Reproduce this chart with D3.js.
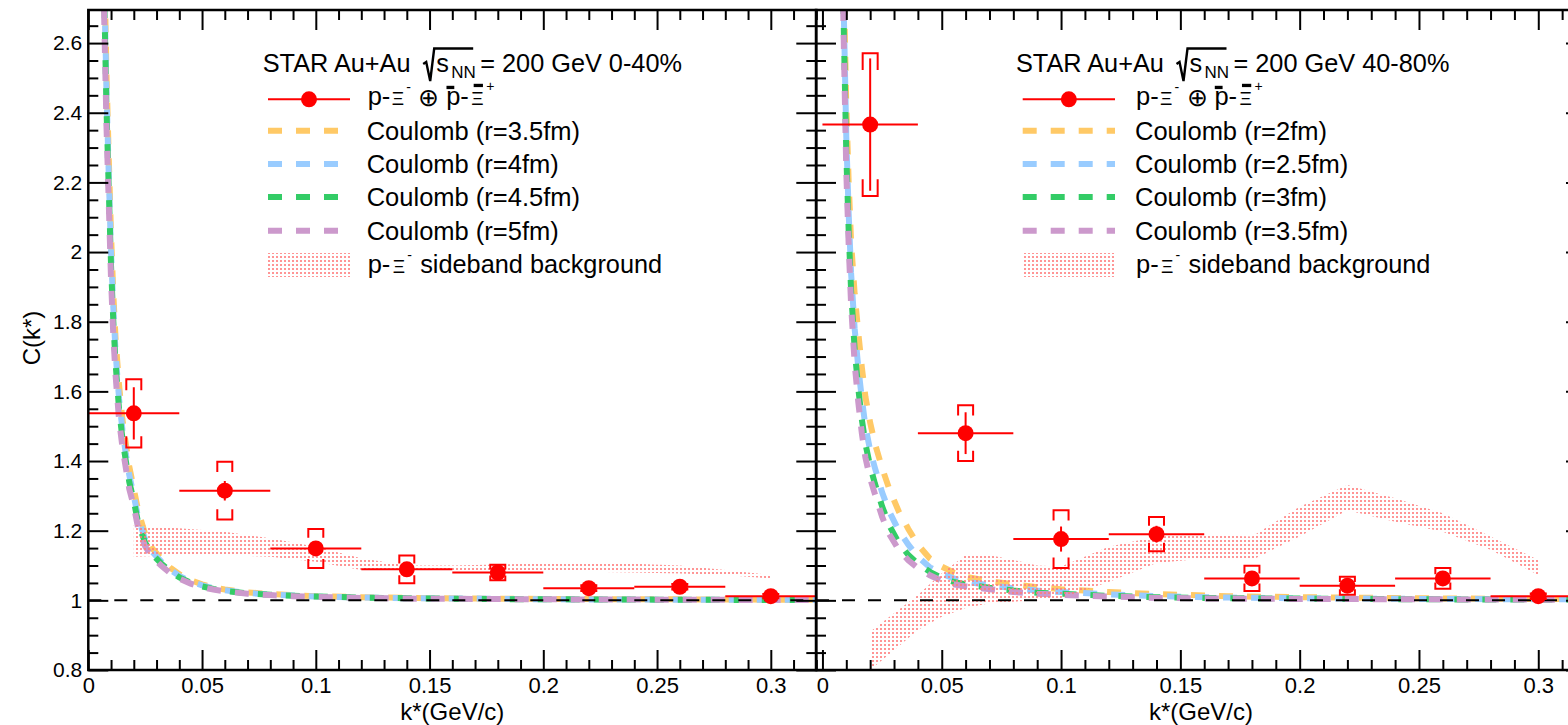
<!DOCTYPE html>
<html><head><meta charset="utf-8">
<script src="https://cdn.jsdelivr.net/npm/d3@7"></script>
<style>
body{margin:0;background:#fff;}
svg{display:block;}
text{font-family:"Liberation Sans", Arial, Helvetica, sans-serif;fill:#000;}
</style>
</head><body>
<svg id="c" width="1568" height="725"></svg>
<script>
// ---------------- DATA ----------------
const kBins = [0.02, 0.06, 0.10, 0.14, 0.18, 0.22, 0.26, 0.30];
const kHalfWidth = [0.02, 0.02, 0.02, 0.02, 0.02, 0.02, 0.02, 0.02];

const corr_0_40 = [1.537, 1.315, 1.149, 1.089, 1.080, 1.035, 1.039, 1.012];
const stat_0_40 = [0.075, 0.028, 0.012, 0.010, 0.008, 0.006, 0.006, 0.005];
const sys_0_40  = [0.098, 0.083, 0.056, 0.040, 0.022, 0.008, 0.008, 0.006];

const corr_40_80 = [2.366, 1.480, 1.176, 1.190, 1.063, 1.042, 1.063, 1.012];
const stat_40_80 = [0.190, 0.060, 0.036, 0.024, 0.012, 0.012, 0.012, 0.008];
const sys_40_80  = [0.205, 0.080, 0.083, 0.049, 0.036, 0.026, 0.030, 0.008];

const kModel = [0.005,0.006,0.007,0.008,0.009,0.010,0.011,0.012,0.0135,0.015,0.0165,0.018,0.020,0.022,0.025,0.028,0.032,0.036,0.040,0.045,0.050,0.055,0.060,0.070,0.080,0.090,0.100,0.120,0.140,0.170,0.200,0.250,0.300,0.320];

const coul_0_40_r35 = [4.6,3.42,2.84,2.51,2.27,2.05,1.88,1.75,1.62,1.52,1.45,1.385,1.32,1.255,1.19,1.15,1.12,1.094,1.075,1.058,1.046,1.037,1.031,1.023,1.018,1.015,1.012,1.009,1.007,1.005,1.004,1.003,1.002,1.002];
const coul_0_40_r4  = [4.5,3.35,2.78,2.46,2.22,2.0,1.84,1.71,1.58,1.49,1.42,1.36,1.30,1.235,1.175,1.14,1.112,1.088,1.07,1.054,1.043,1.035,1.029,1.021,1.017,1.014,1.011,1.008,1.006,1.005,1.003,1.002,1.002,1.001];
const coul_0_40_r45 = [4.4,3.28,2.73,2.41,2.18,1.96,1.80,1.68,1.55,1.465,1.40,1.34,1.285,1.22,1.165,1.133,1.106,1.083,1.066,1.051,1.040,1.033,1.027,1.020,1.016,1.013,1.011,1.008,1.006,1.004,1.003,1.002,1.001,1.001];
const coul_0_40_r5  = [4.3,3.2,2.67,2.36,2.14,1.92,1.76,1.645,1.52,1.44,1.38,1.32,1.27,1.205,1.155,1.125,1.10,1.078,1.062,1.048,1.038,1.031,1.026,1.019,1.015,1.012,1.010,1.007,1.005,1.004,1.003,1.002,1.001,1.001];

const coul_40_80_r2  = [6.5,5.0,3.9,3.2,2.75,2.42,2.2,2.03,1.88,1.77,1.67,1.585,1.51,1.45,1.38,1.32,1.255,1.205,1.16,1.12,1.097,1.08,1.068,1.055,1.046,1.038,1.032,1.024,1.018,1.012,1.009,1.006,1.004,1.004];
const coul_40_80_r25 = [6.3,4.8,3.75,3.1,2.67,2.33,2.11,1.94,1.78,1.67,1.58,1.5,1.43,1.38,1.31,1.255,1.2,1.16,1.125,1.095,1.076,1.063,1.054,1.043,1.035,1.028,1.024,1.017,1.012,1.008,1.006,1.004,1.003,1.003];
const coul_40_80_r3  = [6.1,4.7,3.68,3.05,2.62,2.28,2.06,1.89,1.72,1.61,1.52,1.45,1.385,1.335,1.27,1.215,1.165,1.13,1.105,1.082,1.064,1.053,1.046,1.036,1.028,1.022,1.019,1.013,1.009,1.006,1.005,1.003,1.002,1.002];
const coul_40_80_r35 = [6.0,4.6,3.6,3.0,2.58,2.23,2.02,1.85,1.68,1.57,1.48,1.41,1.35,1.305,1.24,1.19,1.145,1.115,1.093,1.072,1.056,1.046,1.04,1.032,1.024,1.019,1.016,1.011,1.007,1.005,1.004,1.003,1.002,1.002];

const bandK_0_40  = [0.02,0.04,0.06,0.08,0.10,0.12,0.14,0.16,0.18,0.20,0.22,0.24,0.26,0.28,0.30];
const bandHi_0_40 = [1.216,1.207,1.197,1.178,1.154,1.121,1.100,1.100,1.103,1.106,1.107,1.105,1.100,1.087,1.073];
const bandLo_0_40 = [1.125,1.130,1.130,1.125,1.111,1.087,1.082,1.082,1.082,1.082,1.082,1.080,1.077,1.073,1.063];

const bandK_40_80  = [0.02,0.03,0.04,0.05,0.06,0.07,0.08,0.09,0.10,0.12,0.14,0.16,0.18,0.20,0.22,0.24,0.26,0.28,0.30];
const bandHi_40_80 = [0.91,0.963,1.015,1.078,1.13,1.13,1.116,1.10,1.097,1.154,1.183,1.188,1.183,1.269,1.331,1.293,1.25,1.183,1.116];
const bandLo_40_80 = [0.80,0.857,0.915,0.953,0.978,0.992,0.996,1.0,1.007,1.053,1.107,1.12,1.116,1.183,1.259,1.226,1.197,1.145,1.073];

const xMajorTicks = [0, 0.05, 0.10, 0.15, 0.20, 0.25, 0.30];
const xTickLabels = ["0", "0.05", "0.1", "0.15", "0.2", "0.25", "0.3"];
const yMajorTicks = [0.8, 1.0, 1.2, 1.4, 1.6, 1.8, 2.0, 2.2, 2.4, 2.6];
const yTickLabels = ["0.8", "1", "1.2", "1.4", "1.6", "1.8", "2", "2.2", "2.4", "2.6"];

const legendRadii_0_40 = ["Coulomb (r=3.5fm)", "Coulomb (r=4fm)", "Coulomb (r=4.5fm)", "Coulomb (r=5fm)"];
const legendRadii_40_80 = ["Coulomb (r=2fm)", "Coulomb (r=2.5fm)", "Coulomb (r=3fm)", "Coulomb (r=3.5fm)"];
const centrality = ["0-40%", "40-80%"];
const curveColors = ["#FFC966", "#99CCFF", "#33CC66", "#CC99CC"];

// ---------------- DRAWING ----------------
const FONT = '"Liberation Sans", Arial, Helvetica, sans-serif';
const svg = d3.select('#c');
const defs = svg.append('defs');
const pat = defs.append('pattern').attr('id','dots').attr('patternUnits','userSpaceOnUse')
  .attr('width',4).attr('height',4);
pat.append('rect').attr('x',0).attr('y',0).attr('width',2).attr('height',2).attr('fill','#ff7a7a');

const y = d3.scaleLinear().domain([0.8, 2.695]).range([670, 10]);

const panels = [
  { x: d3.scaleLinear().domain([0, 0.32]).range([88.3, 816.3]),
    corr: corr_0_40, stat: stat_0_40, sys: sys_0_40,
    curves: [coul_0_40_r35, coul_0_40_r4, coul_0_40_r45, coul_0_40_r5],
    bandK: bandK_0_40, bandLo: bandLo_0_40, bandHi: bandHi_0_40,
    labels: legendRadii_0_40, cent: centrality[0],
    leg: {titleX: 262.7, symX0: 268, symX1: 350, textX: 366.7}, yLabels: true },
  { x: d3.scaleLinear().domain([-0.0027, 0.32]).range([816, 1586]),
    corr: corr_40_80, stat: stat_40_80, sys: sys_40_80,
    curves: [coul_40_80_r2, coul_40_80_r25, coul_40_80_r3, coul_40_80_r35],
    bandK: bandK_40_80, bandLo: bandLo_40_80, bandHi: bandHi_40_80,
    labels: legendRadii_40_80, cent: centrality[1],
    leg: {titleX: 1016, symX0: 1022.7, symX1: 1115, textX: 1135}, yLabels: false }
];

// segments placed at absolute offsets (ox) relative to x0
function placed(g, x0, yb, segs) {
  segs.forEach(s => {
    const t = g.append('text').attr('x', x0 + s.ox).attr('y', yb + (s.dy || 0))
      .attr('font-size', s.fs).text(s.t);
    if (s.bar !== undefined) {
      const w = t.node().getComputedTextLength();
      g.append('rect').attr('x', x0 + s.ox + w * s.bx0).attr('y', yb + s.bar)
        .attr('width', w * s.bw).attr('height', 3.3).attr('fill', '#000');
    }
  });
}

panels.forEach((P, pi) => {
  const x = P.x;
  const x0 = x.range()[0], x1 = x.range()[1];
  const g = svg.append('g');
  const clipId = 'clip' + pi;
  defs.append('clipPath').attr('id', clipId).append('rect')
    .attr('x', x0).attr('y', 10).attr('width', x1 - x0).attr('height', 660);
  const plot = g.append('g').attr('clip-path', `url(#${clipId})`);

  // Coulomb curves
  const line = d3.line().x(d => x(d[0])).y(d => y(d[1]));
  P.curves.forEach((vals, ci) => {
    plot.append('path').datum(kModel.map((k, i) => [k, vals[i]]))
      .attr('d', line).attr('fill', 'none').attr('stroke', curveColors[ci])
      .attr('stroke-width', 6).attr('stroke-dasharray', '14 14');
  });

  // sideband band
  const area = d3.area().x(d => x(d[0])).y0(d => y(d[1])).y1(d => y(d[2]));
  plot.append('path').datum(P.bandK.map((k, i) => [k, P.bandLo[i], P.bandHi[i]]))
    .attr('d', area).attr('fill', 'url(#dots)').attr('fill-opacity', 0.8);

  // y=1 line
  plot.append('line').attr('x1', x0).attr('x2', x1).attr('y1', y(1)).attr('y2', y(1))
    .attr('stroke', '#000').attr('stroke-width', 2).attr('stroke-dasharray', '13 13');

  // data points
  const pts = plot.append('g').attr('stroke', '#ff0000').attr('stroke-width', 2).attr('fill', 'none');
  kBins.forEach((k, i) => {
    const c = P.corr[i], cx = x(k), cy = y(c);
    pts.append('line').attr('x1', x(k - kHalfWidth[i])).attr('x2', x(k + kHalfWidth[i]))
      .attr('y1', cy).attr('y2', cy);
    pts.append('line').attr('x1', cx).attr('x2', cx)
      .attr('y1', y(c - P.stat[i])).attr('y2', y(c + P.stat[i]));
    const yT = y(c + P.sys[i]), yB = y(c - P.sys[i]);
    const h = (yB - yT) / 2, w = 7.5;
    const L = Math.min(0.6 * h, 6 + 0.15 * h);
    pts.append('path').attr('d',
      `M${cx - w},${yT + L}V${yT}H${cx + w}V${yT + L}` +
      `M${cx - w},${yB - L}V${yB}H${cx + w}V${yB - L}`);
    pts.append('circle').attr('cx', cx).attr('cy', cy).attr('r', 8)
      .attr('fill', '#ff0000').attr('stroke', 'none');
  });

  // axes
  const styleAxis = fs => a => { a.select('.domain').remove();
    a.selectAll('line').attr('stroke', '#000').attr('stroke-width', 2);
    a.selectAll('text').attr('font-size', fs).attr('fill', '#000').attr('font-family', FONT); };
  const xMinor = d3.range(0, 33).map(i => i / 100).filter(v => Math.abs(v * 20 - Math.round(v * 20)) > 1e-6);
  const yMinor = d3.range(0, 38).map(i => 0.8 + i * 0.05).filter(v => Math.abs(v * 5 - Math.round(v * 5)) > 1e-6 && v < 2.695);

  g.append('g').attr('transform', 'translate(0,670)')
    .call(d3.axisBottom(x).tickValues(xMajorTicks).tickSize(-20).tickPadding(7)
      .tickFormat((d, i) => xTickLabels[i])).call(styleAxis(22));
  g.append('g').attr('transform', 'translate(0,670)')
    .call(d3.axisBottom(x).tickValues(xMinor).tickSize(-10).tickFormat('')).call(styleAxis(22));
  g.append('g').attr('transform', 'translate(0,10)')
    .call(d3.axisTop(x).tickValues(xMajorTicks).tickSize(-20).tickFormat('')).call(styleAxis(22));
  g.append('g').attr('transform', 'translate(0,10)')
    .call(d3.axisTop(x).tickValues(xMinor).tickSize(-10).tickFormat('')).call(styleAxis(22));

  const lAx = d3.axisLeft(y).tickValues(yMajorTicks).tickSize(-20).tickPadding(6)
      .tickFormat(P.yLabels ? ((d, i) => yTickLabels[i]) : '');
  g.append('g').attr('transform', `translate(${x0},0)`).call(lAx).call(styleAxis(21));
  g.append('g').attr('transform', `translate(${x0},0)`)
    .call(d3.axisLeft(y).tickValues(yMinor).tickSize(-10).tickFormat('')).call(styleAxis(21));
  g.append('g').attr('transform', `translate(${x1},0)`)
    .call(d3.axisRight(y).tickValues(yMajorTicks).tickSize(-20).tickFormat('')).call(styleAxis(21));
  g.append('g').attr('transform', `translate(${x1},0)`)
    .call(d3.axisRight(y).tickValues(yMinor).tickSize(-10).tickFormat('')).call(styleAxis(21));

  // frame
  g.append('rect').attr('x', x0).attr('y', 10).attr('width', x1 - x0).attr('height', 660)
    .attr('fill', 'none').attr('stroke', '#000').attr('stroke-width', 2.5);

  // axis title
  g.append('text').attr('x', (x0 + x1) / 2).attr('y', 719.5).attr('text-anchor', 'middle')
    .attr('font-size', 24).text('k*(GeV/c)');

  // legend
  const Lg = P.leg;
  const lg = g.append('g');
  const tb = 71.7, tx0 = Lg.titleX;
  lg.append('text').attr('x', tx0).attr('y', tb).attr('font-size', 25.3).text('STAR Au+Au');
  const rx = tx0 + 160.5;
  lg.append('path').attr('d', `M${rx},${64}L${rx + 3},${62}L${rx + 7},${81}L${rx + 11},${48.5}H${rx + 50}`)
    .attr('fill', 'none').attr('stroke', '#000').attr('stroke-width', 2.4);
  lg.append('text').attr('x', tx0 + 173.5).attr('y', tb).attr('font-size', 25.3).text('s');
  lg.append('text').attr('x', tx0 + 188.5).attr('y', tb + 6.5).attr('font-size', 17).text('NN');
  lg.append('text').attr('x', tx0 + 217.5).attr('y', tb).attr('font-size', 25.3).text('= 200 GeV ' + P.cent);

  const rowY = [99.3, 130.7, 164, 197, 230.7, 264];
  lg.append('line').attr('x1', Lg.symX0).attr('x2', Lg.symX1).attr('y1', rowY[0]).attr('y2', rowY[0])
    .attr('stroke', '#ff0000').attr('stroke-width', 2);
  lg.append('circle').attr('cx', (Lg.symX0 + Lg.symX1) / 2).attr('cy', rowY[0]).attr('r', 8).attr('fill', '#ff0000');
  placed(lg, Lg.textX, rowY[0] + 6, [
    {t: 'p-', fs: 25.5, ox: 1},
    {t: '\u039E', fs: 19, ox: 25},
    {t: '-', fs: 14, ox: 39.5, dy: -13},
    {t: '\u2295', fs: 25, ox: 51.5, dy: 1},
    {t: 'p', fs: 25.5, ox: 79.5, bar: -19.5, bx0: 0.02, bw: 0.55},
    {t: '-', fs: 25.5, ox: 93.5},
    {t: '\u039E', fs: 19, ox: 104.5, bar: -21.5, bx0: 0.2, bw: 0.75},
    {t: '+', fs: 14, ox: 119.5, dy: -14}
  ]);
  P.labels.forEach((lab, i) => {
    const yy = rowY[i + 1];
    lg.append('line').attr('x1', Lg.symX0).attr('x2', Lg.symX1).attr('y1', yy).attr('y2', yy)
      .attr('stroke', curveColors[i]).attr('stroke-width', 6).attr('stroke-dasharray', '14 14');
    lg.append('text').attr('x', Lg.textX).attr('y', yy + 9).attr('font-size', 25.5).text(lab);
  });
  lg.append('rect').attr('x', Lg.symX0).attr('y', 253).attr('width', Lg.symX1 - Lg.symX0).attr('height', 24)
    .attr('fill', 'url(#dots)').attr('fill-opacity', 0.8);
  placed(lg, Lg.textX, rowY[5] + 9, [
    {t: 'p-', fs: 25.5, ox: 1},
    {t: '\u039E', fs: 19, ox: 26},
    {t: '-', fs: 14, ox: 40.5, dy: -13},
    {t: 'sideband background', fs: 25.3, ox: 53.5}
  ]);
});

// y axis title
svg.append('text').attr('transform', 'translate(40,338) rotate(-90)').attr('text-anchor', 'middle')
  .attr('font-size', 24).text('C(k*)');
</script>
</body></html>
